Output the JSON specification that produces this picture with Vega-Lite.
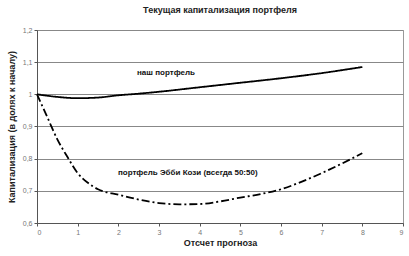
{
  "$schema": "https://vega.github.io/schema/vega-lite/v6.json",
  "width": 366,
  "height": 193,
  "autosize": "none",
  "padding": {"left": 37, "top": 30, "right": 6, "bottom": 33},
  "background": "white",
  "title": {"text": "Текущая капитализация портфеля", "font": "Liberation Sans", "fontSize": 9, "fontWeight": "bold", "color": "#222", "offset": 11, "anchor": "middle"},
  "config": {
    "view": {"stroke": "#999", "strokeWidth": 1},
    "font": "Liberation Sans"
  },
  "datasets": {
    "lines": [
      {"t": 0, "v": 1.0, "s": "наш"},
      {"t": 0.5, "v": 0.992, "s": "наш"},
      {"t": 1, "v": 0.988, "s": "наш"},
      {"t": 1.5, "v": 0.99, "s": "наш"},
      {"t": 2, "v": 0.997, "s": "наш"},
      {"t": 2.5, "v": 1.002, "s": "наш"},
      {"t": 3, "v": 1.008, "s": "наш"},
      {"t": 4, "v": 1.022, "s": "наш"},
      {"t": 5, "v": 1.036, "s": "наш"},
      {"t": 6, "v": 1.05, "s": "наш"},
      {"t": 7, "v": 1.066, "s": "наш"},
      {"t": 8, "v": 1.085, "s": "наш"},
      {"t": 0, "v": 1.0, "s": "Эбби"},
      {"t": 0.25, "v": 0.93, "s": "Эбби"},
      {"t": 0.5, "v": 0.86, "s": "Эбби"},
      {"t": 0.75, "v": 0.805, "s": "Эбби"},
      {"t": 1, "v": 0.755, "s": "Эбби"},
      {"t": 1.25, "v": 0.725, "s": "Эбби"},
      {"t": 1.5, "v": 0.705, "s": "Эбби"},
      {"t": 2, "v": 0.688, "s": "Эбби"},
      {"t": 2.5, "v": 0.673, "s": "Эбби"},
      {"t": 3, "v": 0.662, "s": "Эбби"},
      {"t": 3.5, "v": 0.658, "s": "Эбби"},
      {"t": 4, "v": 0.659, "s": "Эбби"},
      {"t": 4.5, "v": 0.667, "s": "Эбби"},
      {"t": 5, "v": 0.679, "s": "Эбби"},
      {"t": 5.5, "v": 0.69, "s": "Эбби"},
      {"t": 6, "v": 0.705, "s": "Эбби"},
      {"t": 6.5, "v": 0.728, "s": "Эбби"},
      {"t": 7, "v": 0.755, "s": "Эбби"},
      {"t": 7.5, "v": 0.785, "s": "Эбби"},
      {"t": 8, "v": 0.817, "s": "Эбби"}
    ],
    "labels": [
      {"t": 2.46, "v": 1.065, "txt": "наш портфель"},
      {"t": 1.99, "v": 0.755, "txt": "портфель Эбби Кози (всегда 50:50)"}
    ]
  },
  "layer": [
    {
      "data": {"name": "lines"},
      "mark": {"type": "line", "color": "black", "strokeWidth": 1.8, "interpolate": "monotone"},
      "encoding": {
        "x": {"field": "t", "type": "quantitative",
          "scale": {"domain": [0, 9], "nice": false, "zero": false},
          "axis": {"title": "Отсчет прогноза", "values": [0,1,2,3,4,5,6,7,8,9], "tickCount": 20, "format": "d", "grid": false, "labelOverlap": false, "domainColor": "#555", "tickColor": "#555", "tickSize": 3, "labelFontSize": 7, "labelColor": "#777", "labelPadding": 2, "titleFontSize": 9, "titleFontWeight": "bold", "titleColor": "#222", "titlePadding": 3}},
        "y": {"field": "v", "type": "quantitative",
          "scale": {"domain": [0.6, 1.2], "nice": false, "zero": false},
          "axis": {"title": "Капитализация (в долях к началу)", "values": [0.6,0.7,0.8,0.9,1.0,1.1,1.2], "tickCount": 20, "labelOverlap": false, "labelExpr": "replace(datum.label, '.', ',')", "format": "~g", "grid": true, "gridColor": "#888", "gridWidth": 1, "domainColor": "#555", "tickColor": "#555", "tickSize": 3, "labelFontSize": 7, "labelColor": "#777", "labelPadding": 2, "titleFontSize": 9, "titleFontWeight": "bold", "titleColor": "#222", "titlePadding": 6}},
        "strokeDash": {"field": "s", "type": "nominal",
          "scale": {"domain": ["наш", "Эбби"], "range": [[1, 0], [8, 3, 2, 3]]},
          "legend": null}
      }
    },
    {
      "data": {"name": "labels"},
      "mark": {"type": "text", "align": "left", "baseline": "middle", "fontSize": 8, "fontWeight": "bold", "color": "#111"},
      "encoding": {
        "x": {"field": "t", "type": "quantitative"},
        "y": {"field": "v", "type": "quantitative"},
        "text": {"field": "txt"}
      }
    }
  ]
}
